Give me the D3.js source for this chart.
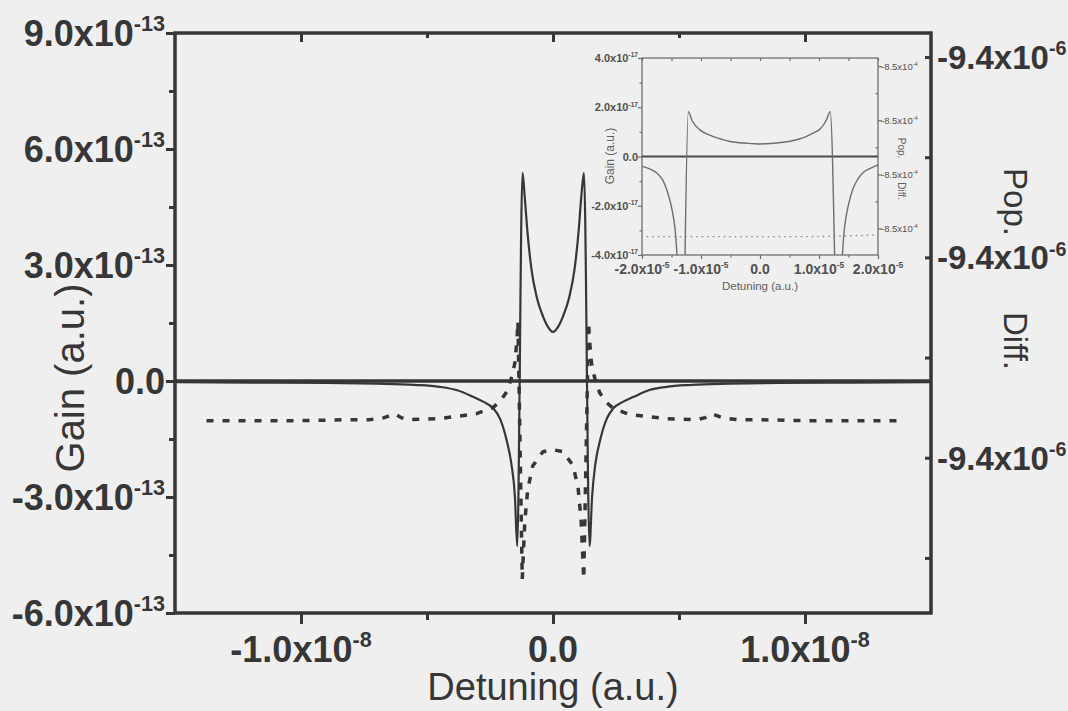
<!DOCTYPE html>
<html>
<head>
<meta charset="utf-8">
<script src="https://cdn.jsdelivr.net/npm/d3@7"></script>
<style>
  body { margin: 0; background: #efefef; }
  svg { display: block; font-family: "Liberation Sans", Arial, sans-serif; }
</style>
</head>
<body>
<svg id="chart" width="1068" height="711"></svg>
<script>
// ---------------- DATA ----------------
// main plot, solid line : gain vs detuning
var detuning = [-1.50e-8, -1.20e-8, -0.90e-8, -0.70e-8, -0.55e-8, -0.45e-8, -0.38e-8, -0.317e-8, -0.275e-8,
  -0.238e-8, -0.21e-8, -0.184e-8, -0.165e-8, -0.151e-8, -0.142e-8, -0.121e-8, -0.112e-8, -0.102e-8,
  -0.085e-8, -0.065e-8, -0.039e-8, -0.02e-8, 0, 0.02e-8, 0.039e-8, 0.065e-8, 0.085e-8, 0.102e-8,
  0.112e-8, 0.123e-8, 0.145e-8, 0.155e-8, 0.168e-8, 0.187e-8, 0.213e-8, 0.24e-8, 0.277e-8, 0.32e-8,
  0.38e-8, 0.45e-8, 0.55e-8, 0.70e-8, 0.90e-8, 1.20e-8, 1.50e-8];
var gain = [-0.03e-13, -0.04e-13, -0.05e-13, -0.07e-13, -0.10e-13, -0.15e-13, -0.24e-13, -0.41e-13, -0.54e-13,
  -0.70e-13, -0.98e-13, -1.53e-13, -2.15e-13, -3.00e-13, -4.27e-13, 5.38e-13, 4.75e-13, 3.90e-13,
  2.87e-13, 2.18e-13, 1.66e-13, 1.40e-13, 1.27e-13, 1.40e-13, 1.66e-13, 2.18e-13, 2.87e-13, 3.90e-13,
  4.75e-13, 5.38e-13, -4.27e-13, -3.00e-13, -2.15e-13, -1.53e-13, -0.98e-13, -0.70e-13, -0.54e-13, -0.41e-13,
  -0.24e-13, -0.15e-13, -0.10e-13, -0.07e-13, -0.05e-13, -0.04e-13, -0.03e-13];

// main plot, dashed line : population difference (right axis)
var popDetuning = [-1.375e-8, -1.207e-8, -1.008e-8, -0.809e-8, -0.729e-8, -0.669e-8, -0.629e-8, -0.602e-8,
  -0.570e-8, -0.450e-8, -0.303e-8, -0.239e-8, -0.211e-8, -0.183e-8, -0.163e-8, -0.151e-8, -0.143e-8,
  -0.139e-8, -0.122e-8, -0.112e-8, -0.100e-8, -0.080e-8, -0.040e-8, 0, 0.040e-8, 0.080e-8, 0.100e-8,
  0.112e-8, 0.122e-8, 0.141e-8, 0.145e-8, 0.153e-8, 0.165e-8, 0.185e-8, 0.213e-8, 0.241e-8, 0.305e-8,
  0.452e-8, 0.572e-8, 0.604e-8, 0.631e-8, 0.671e-8, 0.731e-8, 0.811e-8, 1.010e-8, 1.209e-8, 1.375e-8];
var popDiff = [-9.40163e-6, -9.40163e-6, -9.40163e-6, -9.40162e-6, -9.40162e-6, -9.40160e-6, -9.40156e-6, -9.40160e-6,
  -9.40162e-6, -9.40161e-6, -9.40156e-6, -9.40150e-6, -9.40144e-6, -9.40134e-6, -9.40119e-6, -9.40105e-6, -9.40082e-6,
  -9.40064e-6, -9.40321e-6, -9.40264e-6, -9.40231e-6, -9.40208e-6, -9.40194e-6, -9.40192e-6, -9.40194e-6, -9.40208e-6, -9.40231e-6,
  -9.40264e-6, -9.40321e-6, -9.40065e-6, -9.40083e-6, -9.40106e-6, -9.40120e-6, -9.40135e-6, -9.40145e-6, -9.40151e-6, -9.40157e-6,
  -9.40161e-6, -9.40162e-6, -9.40160e-6, -9.40156e-6, -9.40160e-6, -9.40162e-6, -9.40162e-6, -9.40163e-6, -9.40163e-6, -9.40163e-6];

// inset, solid line
var insetDetuning = [-2.00e-5, -1.85e-5, -1.75e-5, -1.65e-5, -1.58e-5, -1.52e-5, -1.47e-5, -1.43e-5, -1.41e-5,
  -1.38e-5, -1.34e-5, -1.30e-5, -1.215e-5, -1.15e-5, -1.02e-5, -0.90e-5, -0.79e-5, -0.65e-5, -0.51e-5,
  -0.35e-5, -0.23e-5, -0.10e-5, 0, 0.10e-5, 0.23e-5, 0.35e-5, 0.51e-5, 0.65e-5, 0.79e-5, 0.90e-5,
  1.02e-5, 1.12e-5, 1.19e-5, 1.30e-5, 1.34e-5, 1.37e-5, 1.40e-5, 1.42e-5, 1.46e-5, 1.51e-5, 1.57e-5,
  1.65e-5, 1.75e-5, 1.87e-5, 2.00e-5];
var insetGain = [-0.40e-17, -0.52e-17, -0.67e-17, -0.95e-17, -1.35e-17, -1.85e-17, -2.43e-17, -3.20e-17, -3.90e-17,
  -6.0e-17, -12.0e-17, -8.0e-17, 1.82e-17, 1.45e-17, 1.08e-17, 0.92e-17, 0.81e-17, 0.70e-17, 0.61e-17,
  0.56e-17, 0.54e-17, 0.52e-17, 0.51e-17, 0.52e-17, 0.54e-17, 0.57e-17, 0.62e-17, 0.70e-17, 0.82e-17, 0.95e-17,
  1.12e-17, 1.45e-17, 1.82e-17, -8.0e-17, -12.0e-17, -6.0e-17, -3.90e-17, -3.20e-17, -2.43e-17, -1.85e-17, -1.35e-17,
  -0.95e-17, -0.65e-17, -0.48e-17, -0.34e-17];

// inset, dotted line (right axis)
var insetPopDetuning = [-1.92e-5, -1.0e-5, 0, 1.0e-5, 2.0e-5];
var insetPopDiff = [-8.500015e-4, -8.500015e-4, -8.500015e-4, -8.500015e-4, -8.500012e-4];

// tick values
var gainMajor = [-6e-13, -3e-13, 0, 3e-13, 6e-13, 9e-13];
var gainMinor = [-4.5e-13, -1.5e-13, 1.5e-13, 4.5e-13, 7.5e-13];
var detMajor = [-1e-8, 0, 1e-8];
var detMinor = [-0.5e-8, 0.5e-8];
var popMajor = [-9.402e-6, -9.400e-6, -9.398e-6];
var popMinor = [-9.403e-6, -9.401e-6, -9.399e-6];
var inGainMajor = [-4e-17, -2e-17, 0, 2e-17, 4e-17];
var inGainMinor = [-3e-17, -1e-17, 1e-17, 3e-17];
var inDetMajor = [-2e-5, -1e-5, 0, 1e-5, 2e-5];
var inDetMinor = [-1.5e-5, -0.5e-5, 0.5e-5, 1.5e-5];
var inPopMajor = [-8.5000e-4, -8.4999e-4, -8.4998e-4, -8.4997e-4];
var inPopMinor = [-8.49995e-4, -8.49985e-4, -8.49975e-4];

// ---------------- DRAWING ----------------
var svg = d3.select("#chart");
var ink = "#363636", grey = "#6e6e6e";

// label "m.mx10^e" as real text with a superscript
function sci(v, exp){
  if (v === 0) return {base: "0.0", sup: ""};
  return {base: (v / Math.pow(10, exp)).toFixed(1) + "x10", sup: String(exp)};
}
function label(g, x, y, v, exp, o){
  var s = sci(v, exp);
  var t = g.append("text").attr("x", x).attr("y", y)
    .attr("text-anchor", o.anchor).attr("font-size", o.size)
    .attr("font-weight", o.weight || "bold").attr("fill", o.fill || ink)
    .text(s.base);
  if (s.sup) t.append("tspan").attr("dy", -o.size * 0.42).attr("font-size", o.size * 0.6).text(s.sup);
  return t;
}
function ticks(g, axis, col, w){
  g.call(axis);
  g.select(".domain").remove();
  g.selectAll("line").attr("stroke", col).attr("stroke-width", w);
}

// ===== main plot =====
var L = 175, R = 931, T = 33, B = 613;
var x = d3.scaleLinear().domain([-1.5e-8, 1.5e-8]).range([L, R]);
var y = d3.scaleLinear().domain([-6e-13, 9e-13]).range([B, T]);
var yR = d3.scaleLinear().domain([-9.40355e-6, -9.39776e-6]).range([B, T]);

svg.append("clipPath").attr("id", "mainClip")
  .append("rect").attr("x", L).attr("y", T).attr("width", R - L).attr("height", B - T);

// ticks
ticks(svg.append("g").attr("transform", "translate(" + L + ",0)"),
  d3.axisLeft(y).tickValues(gainMajor).tickSize(9).tickFormat(""), ink, 3);
ticks(svg.append("g").attr("transform", "translate(" + L + ",0)"),
  d3.axisLeft(y).tickValues(gainMinor).tickSize(6).tickFormat(""), ink, 3);
ticks(svg.append("g").attr("transform", "translate(0," + B + ")"),
  d3.axisBottom(x).tickValues(detMajor).tickSize(11).tickFormat(""), ink, 3);
ticks(svg.append("g").attr("transform", "translate(0," + B + ")"),
  d3.axisBottom(x).tickValues(detMinor).tickSize(7).tickFormat(""), ink, 3);
ticks(svg.append("g").attr("transform", "translate(0," + T + ")"),
  d3.axisBottom(x).tickValues(detMajor).tickSize(9).tickFormat(""), ink, 3);
ticks(svg.append("g").attr("transform", "translate(0," + T + ")"),
  d3.axisBottom(x).tickValues(detMinor).tickSize(5).tickFormat(""), ink, 3);
ticks(svg.append("g").attr("transform", "translate(" + R + ",0)"),
  d3.axisLeft(yR).tickValues(popMajor.concat(popMinor)).tickSize(6).tickFormat(""), ink, 3);

// frame
svg.append("rect").attr("x", L).attr("y", T).attr("width", R - L).attr("height", B - T)
  .attr("fill", "none").attr("stroke", ink).attr("stroke-width", 3.5);

// zero line
svg.append("line").attr("x1", L).attr("x2", R).attr("y1", y(0)).attr("y2", y(0))
  .attr("stroke", ink).attr("stroke-width", 3.5);

// curves
var mainLine = d3.line().curve(d3.curveMonotoneX)
  .x(function(d){ return x(d[0]); }).y(function(d){ return y(d[1]); });
var popLine = d3.line().x(function(d){ return x(d[0]); }).y(function(d){ return yR(d[1]); });
svg.append("path").attr("clip-path", "url(#mainClip)")
  .attr("d", popLine(d3.zip(popDetuning, popDiff)))
  .attr("fill", "none").attr("stroke", ink).attr("stroke-width", 3.5)
  .attr("stroke-dasharray", "7,9");
svg.append("path").attr("clip-path", "url(#mainClip)")
  .attr("d", mainLine(d3.zip(detuning, gain)))
  .attr("fill", "none").attr("stroke", ink).attr("stroke-width", 2.2);

// tick labels
gainMajor.forEach(function(v){
  label(svg, 165, y(v) + 13, v, -13, {anchor: "end", size: 36});
});
detMajor.forEach(function(v){
  label(svg, x(v), 662, v, -8, {anchor: "middle", size: 36});
});
popMajor.forEach(function(v){
  label(svg, 937, yR(v) + 12, v, -6, {anchor: "start", size: 33});
});

// axis titles
svg.append("text").attr("transform", "translate(84,378) rotate(-90)")
  .attr("text-anchor", "middle").attr("font-size", 40).attr("fill", ink).text("Gain (a.u.)");
svg.append("text").attr("x", (L + R) / 2).attr("y", 700)
  .attr("text-anchor", "middle").attr("font-size", 38).attr("fill", ink).text("Detuning (a.u.)");
svg.append("text").attr("transform", "translate(1004,202) rotate(90)")
  .attr("text-anchor", "middle").attr("font-size", 33).attr("fill", ink).text("Pop.");
svg.append("text").attr("transform", "translate(1004,341) rotate(90)")
  .attr("text-anchor", "middle").attr("font-size", 33).attr("fill", ink).text("Diff.");

// ===== inset =====
var iL = 642, iR = 878, iT = 58, iB = 255;
var xi = d3.scaleLinear().domain([-2e-5, 2e-5]).range([iL, iR]);
var yi = d3.scaleLinear().domain([-4e-17, 4e-17]).range([iB, iT]);
var yiR = d3.scaleLinear().domain([-8.500049e-4, -8.499685e-4]).range([iB, iT]);

svg.append("clipPath").attr("id", "insetClip")
  .append("rect").attr("x", iL).attr("y", iT).attr("width", iR - iL).attr("height", iB - iT);

ticks(svg.append("g").attr("transform", "translate(" + iL + ",0)"),
  d3.axisLeft(yi).tickValues(inGainMajor).tickSize(4).tickFormat(""), grey, 1.2);
ticks(svg.append("g").attr("transform", "translate(" + iL + ",0)"),
  d3.axisLeft(yi).tickValues(inGainMinor).tickSize(2.5).tickFormat(""), grey, 1.2);
ticks(svg.append("g").attr("transform", "translate(0," + iB + ")"),
  d3.axisBottom(xi).tickValues(inDetMajor).tickSize(4).tickFormat(""), grey, 1.2);
ticks(svg.append("g").attr("transform", "translate(0," + iB + ")"),
  d3.axisBottom(xi).tickValues(inDetMinor).tickSize(2.5).tickFormat(""), grey, 1.2);
ticks(svg.append("g").attr("transform", "translate(0," + iT + ")"),
  d3.axisBottom(xi).tickValues(inDetMajor.concat(inDetMinor)).tickSize(3).tickFormat(""), grey, 1.2);
ticks(svg.append("g").attr("transform", "translate(" + iR + ",0)"),
  d3.axisRight(yiR).tickValues(inPopMajor).tickSize(4).tickFormat(""), grey, 1.2);
ticks(svg.append("g").attr("transform", "translate(" + iR + ",0)"),
  d3.axisLeft(yiR).tickValues(inPopMinor).tickSize(2.5).tickFormat(""), grey, 1.2);

svg.append("rect").attr("x", iL).attr("y", iT).attr("width", iR - iL).attr("height", iB - iT)
  .attr("fill", "none").attr("stroke", grey).attr("stroke-width", 1.3);
svg.append("line").attr("x1", iL).attr("x2", iR).attr("y1", yi(0)).attr("y2", yi(0))
  .attr("stroke", "#4a4a4a").attr("stroke-width", 2);

var inLine = d3.line().curve(d3.curveMonotoneX)
  .x(function(d){ return xi(d[0]); }).y(function(d){ return yi(d[1]); });
var inPop = d3.line().x(function(d){ return xi(d[0]); }).y(function(d){ return yiR(d[1]); });
svg.append("path").attr("clip-path", "url(#insetClip)")
  .attr("d", inPop(d3.zip(insetPopDetuning, insetPopDiff)))
  .attr("fill", "none").attr("stroke", "#888").attr("stroke-width", 1.4)
  .attr("stroke-dasharray", "1.5,4");
svg.append("path").attr("clip-path", "url(#insetClip)")
  .attr("d", inLine(d3.zip(insetDetuning, insetGain)))
  .attr("fill", "none").attr("stroke", grey).attr("stroke-width", 1.4);

inGainMajor.forEach(function(v){
  label(svg, iL - 4, yi(v) + 4, v, -17, {anchor: "end", size: 11, fill: "#505050"});
});
inDetMajor.forEach(function(v){
  label(svg, xi(v), 274, v, -5, {anchor: "middle", size: 14, fill: "#505050"});
});
inPopMajor.forEach(function(v){
  label(svg, iR + 3, yiR(v) + 3.5, v, -4, {anchor: "start", size: 9.5, weight: "normal", fill: "#505050"});
});
svg.append("text").attr("x", (iL + iR) / 2).attr("y", 290)
  .attr("text-anchor", "middle").attr("font-size", 11.5).attr("fill", "#606060").text("Detuning (a.u.)");
svg.append("text").attr("transform", "translate(614,156) rotate(-90)")
  .attr("text-anchor", "middle").attr("font-size", 12).attr("fill", "#606060").text("Gain (a.u.)");
svg.append("text").attr("transform", "translate(898,148) rotate(90)")
  .attr("text-anchor", "middle").attr("font-size", 10).attr("fill", "#606060").text("Pop.");
svg.append("text").attr("transform", "translate(898,191) rotate(90)")
  .attr("text-anchor", "middle").attr("font-size", 10).attr("fill", "#606060").text("Diff.");
</script>
</body>
</html>
